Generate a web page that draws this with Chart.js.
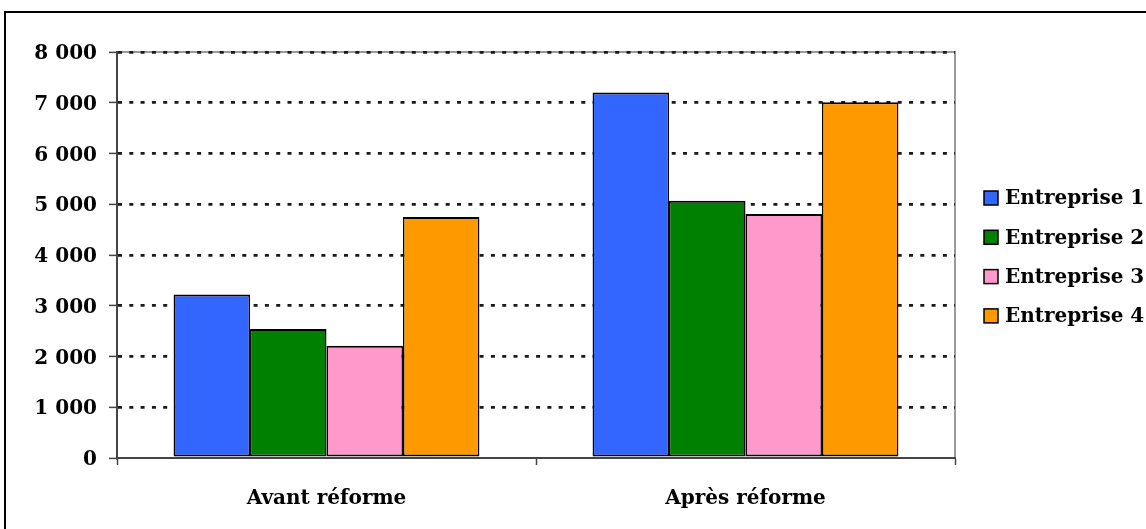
<!DOCTYPE html>
<html lang="fr">
<head>
<meta charset="utf-8">
<title>Entreprises avant / après réforme</title>
<script src="https://cdn.jsdelivr.net/npm/chart.js@4.4.1/dist/chart.umd.min.js"></script>
<style>
  html, body { margin: 0; padding: 0; background: #fff; }
  #wrap { width: 1146px; height: 529px; }
</style>
</head>
<body>
<div id="wrap"><canvas id="myChart" width="1146" height="529"></canvas></div>
<script>
// données
const categories = ["Avant réforme", "Après réforme"];
const seriesNames = ["Entreprise 1", "Entreprise 2", "Entreprise 3", "Entreprise 4"];
const entreprise1 = [3220, 7200];
const entreprise2 = [2540, 5070];
const entreprise3 = [2210, 4810];
const entreprise4 = [4750, 7010];
const seriesColors = ["#3366FF", "#008000", "#FF99CC", "#FF9900"];
const yTicks = [0, 1000, 2000, 3000, 4000, 5000, 6000, 7000, 8000];

const police = "'DejaVu Serif', serif";

// 8000 -> "8 000"
const addSpaceInNumber = (num) => {
  return num.toString().replace(/\B(?=(\d{3})+(?!\d))/g, " ");
};

const seriesValues = [entreprise1, entreprise2, entreprise3, entreprise4];
const datasets = seriesNames.map((name, i) => ({
  label: name,
  data: seriesValues[i],
  backgroundColor: seriesColors[i],
  borderColor: "#000",
  borderWidth: { top: 2, left: 1.5, right: 1.5, bottom: 2 },
  borderSkipped: false,
  categoryPercentage: 0.73,
  barPercentage: 1.0,
}));

/* cadre extérieur + bordure grise de la zone de tracé */
const framePlugin = {
  id: "frame",
  beforeDraw(chart) {
    const ctx = chart.ctx;
    const a = chart.chartArea;
    ctx.save();
    ctx.fillStyle = "#fff";
    ctx.fillRect(0, 0, chart.width, chart.height);
    ctx.strokeStyle = "#000";
    ctx.lineWidth = 2;
    ctx.strokeRect(5, 12, 1300, 700);
    ctx.strokeStyle = "#9a9a9a";
    ctx.lineWidth = 2;
    ctx.beginPath();
    ctx.moveTo(a.left, a.top);
    ctx.lineTo(a.right, a.top);
    ctx.lineTo(a.right, a.bottom);
    ctx.stroke();
    ctx.restore();
  },
};

/* légende dessinée à la main à droite */
const legendPlugin = {
  id: "sideLegend",
  afterDraw(chart) {
    const ctx = chart.ctx;
    const x0 = chart.chartArea.right + 29;
    const top = 191;
    const step = 39.3;
    ctx.save();
    ctx.font = "bold 20px " + police;
    ctx.textBaseline = "middle";
    ctx.textAlign = "left";
    chart.data.datasets.forEach((ds, i) => {
      const y = top + i * step;
      ctx.fillStyle = ds.backgroundColor;
      ctx.fillRect(x0, y, 14, 14);
      ctx.strokeStyle = "#000";
      ctx.lineWidth = 1.5;
      ctx.strokeRect(x0, y, 14, 14);
      ctx.fillStyle = "#000";
      ctx.fillText(ds.label, x0 + 21, y + 8);
    });
    ctx.restore();
  },
};

const config = {
  type: "bar",
  data: {
    labels: categories,
    datasets: datasets,
  },
  options: {
    responsive: false,
    animation: false,
    layout: {
      padding: { top: 52, right: 191, bottom: 0, left: 0 },
    },
    plugins: {
      legend: { display: false },
      tooltip: { enabled: false },
    },
    scales: {
      x: {
        afterFit(scale) {
          scale.height = 71;
        },
        grid: {
          offset: true,
          drawOnChartArea: false,
          drawTicks: true,
          tickLength: 7,
          tickColor: "#444",
          tickWidth: 1.5,
        },
        border: { display: true, color: "#444", width: 2 },
        ticks: {
          color: "#000",
          padding: 22,
          font: { family: police, size: 20, weight: "bold" },
        },
      },
      y: {
        min: 0,
        max: 8000,
        afterFit(scale) {
          scale.width = 117;
        },
        afterBuildTicks(scale) {
          scale.ticks = yTicks.map((v) => ({ value: v }));
        },
        grid: {
          color: (c) => (c.tick && c.tick.value === 0 ? "rgba(0,0,0,0)" : "#1a1a1a"),
          lineWidth: 2.8,
          drawTicks: true,
          tickLength: 8,
          tickColor: "#444",
          tickWidth: 1.5,
          tickBorderDash: [],
        },
        border: { display: true, color: "#444", width: 2, dash: [4, 7.3] },
        ticks: {
          color: "#000",
          padding: 12,
          labelOffset: 2,
          font: { family: police, size: 20, weight: "bold" },
          callback: (v) => addSpaceInNumber(v),
        },
      },
    },
  },
  plugins: [framePlugin, legendPlugin],
};

const context = document.getElementById("myChart").getContext("2d");
const chart = new Chart(context, config);
</script>
</body>
</html>
